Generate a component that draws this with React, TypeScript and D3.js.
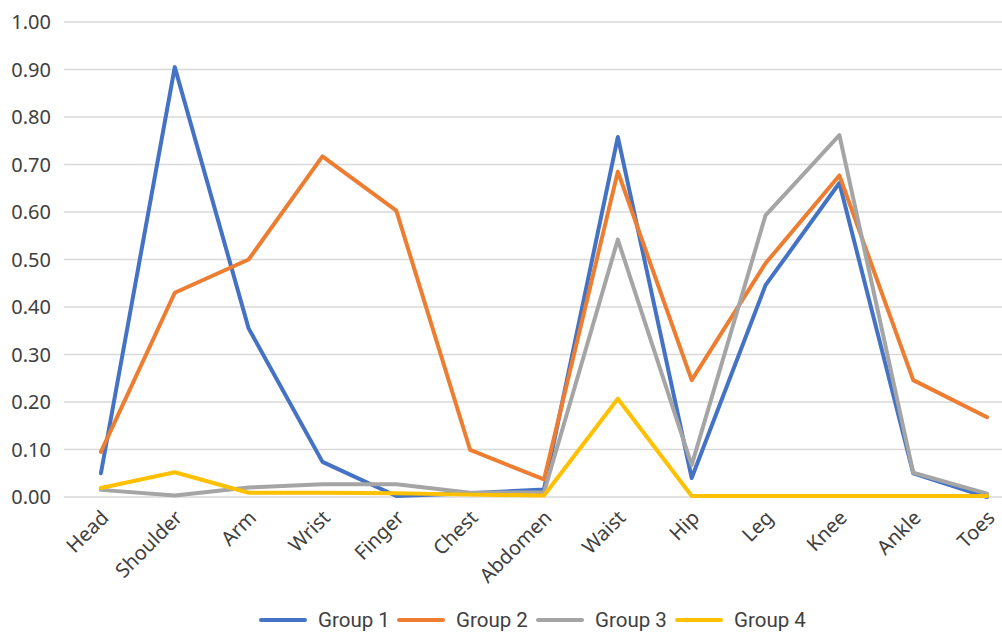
import React, { useEffect, useRef } from 'react'
import * as d3 from 'd3'

const categories = ['Head', 'Shoulder', 'Arm', 'Wrist', 'Finger', 'Chest', 'Abdomen', 'Waist', 'Hip', 'Leg', 'Knee', 'Ankle', 'Toes']
const group1 = [0.05, 0.905, 0.355, 0.074, 0.002, 0.008, 0.016, 0.758, 0.04, 0.446, 0.661, 0.05, 0.0]
const group2 = [0.095, 0.43, 0.5, 0.717, 0.603, 0.099, 0.037, 0.685, 0.246, 0.492, 0.677, 0.246, 0.168]
const group3 = [0.015, 0.003, 0.02, 0.027, 0.027, 0.009, 0.01, 0.542, 0.067, 0.593, 0.762, 0.051, 0.007]
const group4 = [0.019, 0.052, 0.009, 0.009, 0.008, 0.005, 0.003, 0.207, 0.002, 0.002, 0.002, 0.002, 0.002]
const seriesNames = ['Group 1', 'Group 2', 'Group 3', 'Group 4']
const colors = ['#4472c4', '#ed7d31', '#a5a5a5', '#ffc000']
const yTicks = [0, 0.1, 0.2, 0.3, 0.4, 0.5, 0.6, 0.7, 0.8, 0.9, 1.0]

const App = () => {
	const ref = useRef<SVGSVGElement>(null)

	const width = 1002
	const height = 632
	const marginLeft = 64
	const plotRight = 1024
	const marginTop = 22
	const plotBottom = 497
	const font = '"Noto Sans", Roboto, sans-serif'

	useEffect(() => {
		if (!ref.current) return
		const svg = d3.select(ref.current)
		svg.selectAll('*').remove()

		const x = d3.scaleBand().domain(categories).range([marginLeft, plotRight])
		const y = d3.scaleLinear().domain([0, 1]).range([plotBottom, marginTop])
		const cx = (c: string) => (x(c) as number) + x.bandwidth() / 2

		// grid
		svg
			.append('g')
			.selectAll('line')
			.data(yTicks)
			.join('line')
			.attr('x1', marginLeft)
			.attr('x2', width)
			.attr('y1', d => y(d))
			.attr('y2', d => y(d))
			.attr('stroke', '#d9d9d9')
			.attr('stroke-width', 1.5)

		// y labels
		svg
			.append('g')
			.selectAll('text')
			.data(yTicks)
			.join('text')
			.attr('x', 51)
			.attr('y', d => y(d))
			.attr('dy', '0.36em')
			.attr('text-anchor', 'end')
			.attr('font-family', font)
			.attr('font-size', 20)
			.attr('fill', '#404040')
			.text(d => d.toFixed(2))

		// x labels
		svg
			.append('g')
			.selectAll('text')
			.data(categories)
			.join('text')
			.attr('transform', d => `translate(${cx(d) + 4},${plotBottom + 17}) rotate(-45)`)
			.attr('text-anchor', 'end')
			.attr('dy', '0.35em')
			.attr('font-family', font)
			.attr('font-size', 20)
			.attr('fill', '#404040')
			.text(d => d)

		const allSeries = [group1, group2, group3, group4]
		const line = d3
			.line<number>()
			.x((_, i) => cx(categories[i]))
			.y(d => y(d))

		svg
			.append('g')
			.selectAll('path')
			.data(allSeries)
			.join('path')
			.attr('fill', 'none')
			.attr('stroke', (_, i) => colors[i])
			.attr('stroke-width', 4)
			.attr('stroke-linejoin', 'round')
			.attr('stroke-linecap', 'round')
			.attr('d', d => line(d))

		// legend
		const legendX = [259, 397, 536, 675]
		const legend = svg
			.append('g')
			.selectAll('g')
			.data(seriesNames)
			.join('g')
			.attr('transform', (_, i) => `translate(${legendX[i]},620)`)
		legend
			.append('line')
			.attr('x1', 2)
			.attr('x2', 46)
			.attr('stroke', (_, i) => colors[i])
			.attr('stroke-width', 4)
			.attr('stroke-linecap', 'round')
		legend
			.append('text')
			.attr('x', 59)
			.attr('dy', '0.36em')
			.attr('font-family', 'Roboto, "Noto Sans", sans-serif')
			.attr('font-size', 20.5)
			.attr('fill', '#404040')
			.text(d => d)
	}, [])

	return (
		<svg
			ref={ref}
			width={width}
			height={height}
			style={{ position: 'absolute', left: 0, top: 0, background: '#fff' }}
		></svg>
	)
}

export default App
